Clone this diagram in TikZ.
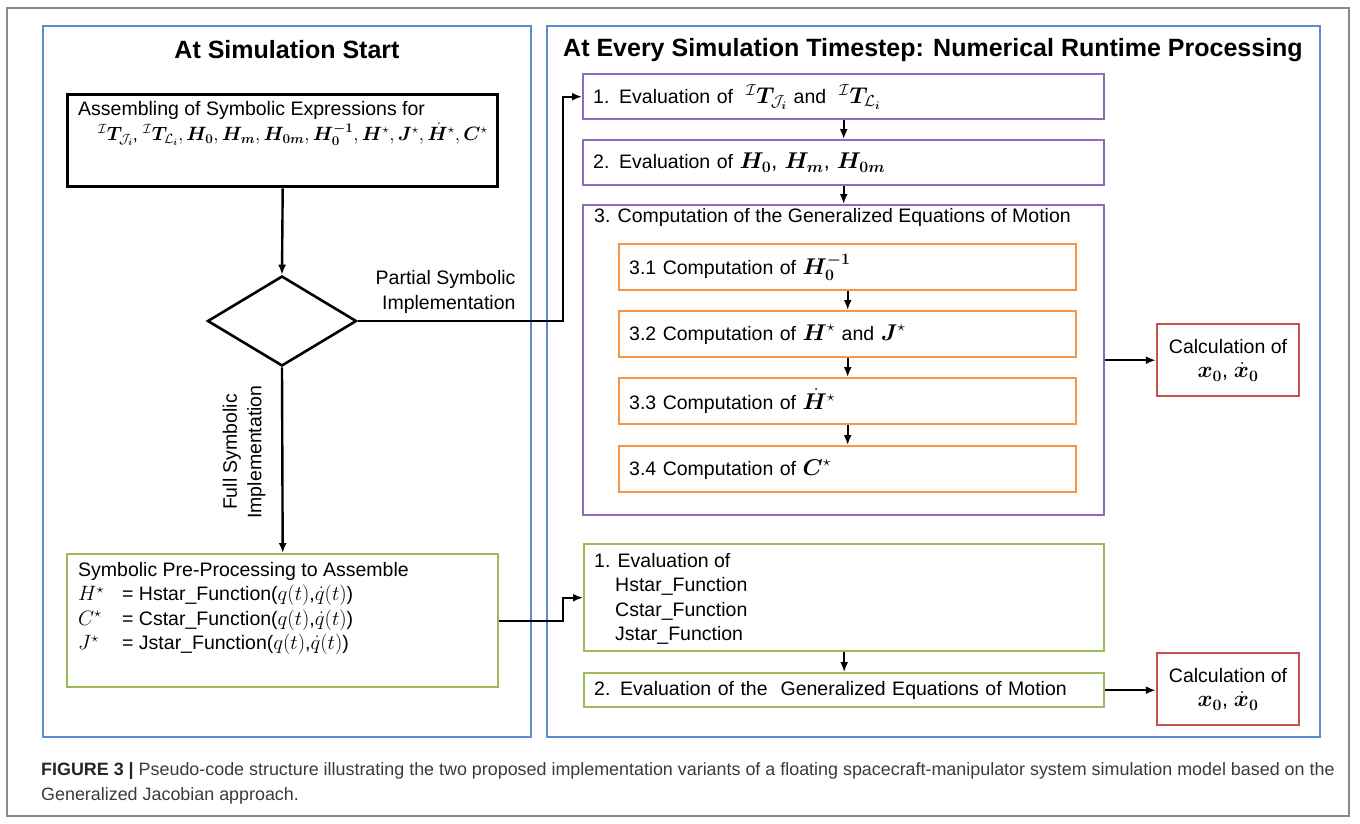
\documentclass[tikz,border=0pt]{standalone}
\usepackage{amsmath,bm,graphicx}
\usepackage[no-math]{fontspec}
\setmainfont{Liberation Sans}
\usetikzlibrary{arrows.meta,shapes.geometric}
\definecolor{panelblue}{HTML}{5B8BD0}
\definecolor{evalpurple}{HTML}{8E6BBF}
\definecolor{comporange}{HTML}{F79646}
\definecolor{symgreen}{HTML}{9BBB59}
\definecolor{calcred}{HTML}{C9504D}
\definecolor{framegray}{HTML}{8A8A8A}
\definecolor{captiongray}{HTML}{3A3A3A}
\newcommand{\bodyfont}{\fontsize{19.5}{24.5}\selectfont}
\newcommand{\bmath}[1]{\scalebox{1.1}{$#1$}}
\newcommand{\Tsym}[1]{{}^{\mathcal{I}}\bm{T}_{\mathcal{#1}_{\bm i}}}
\begin{document}
\begin{tikzpicture}[x=1pt,y=-1pt,
  panel/.style={draw=panelblue, line width=1.6pt},
  stepbox/.style={draw, line width=2.4pt, anchor=north west, inner xsep=10pt, inner ysep=0pt,
    align=left, font=\bodyfont},
  calcbox/.style={draw=calcred, line width=2.4pt, minimum width=142pt, minimum height=72pt,
    align=center, font=\bodyfont, inner sep=0pt},
  plain/.style={anchor=north west, align=left, font=\bodyfont, inner sep=0pt},
  >={Latex[length=10pt,width=8pt]}, line width=2.4pt]
\useasboundingbox (0,0) rectangle (1360,823);
\draw[framegray, line width=1.2pt] (7,8) rectangle (1349,816);
\draw[panel] (43,26) rectangle (531,737);
\draw[panel] (547,26) rectangle (1320,737);
\node[font=\fontsize{25}{28}\selectfont\bfseries] (titleL) at (287,50) {At Simulation Start};
\node[font=\fontsize{25}{28}\selectfont\bfseries] (titleR) at (933,50) {At Every Simulation Timestep: Numerical Runtime Processing};

\node[draw, line width=3.4pt, anchor=north west, minimum width=430pt, minimum height=92pt] (asm) at (66,93) {};
\node[plain] (asmtext) at (77,100) {Assembling of Symbolic Expressions for\\[1pt]
  \hspace{20pt}\scalebox{0.93}{$\Tsym{J}\text{, }\Tsym{L}, \bm{H}_{\bm 0}, \bm{H}_{\bm m}, \bm{H}_{\bm{0m}}, \bm{H}_{\bm 0}^{\bm{-1}}, \bm{H}^{\star}, \bm{J}^{\star}, \dot{\bm{H}}^{\star}, \bm{C}^{\star}$}};
\node[diamond, draw, line width=2.6pt, minimum width=149pt, minimum height=90pt, inner sep=0pt] (dec) at (282,321) {};
\node[font=\bodyfont, align=right, anchor=east] (partlab) at (520,292) {Partial Symbolic\\Implementation};
\node[font=\bodyfont, align=center, rotate=90] (fulllab) at (244,452) {Full Symbolic\\Implementation};
\node[stepbox, draw=symgreen, minimum width=431pt, minimum height=133pt] (pre) at (66,553) {};
\node[plain] (pretext) at (77,561) {Symbolic Pre-Processing to Assemble\\
  \makebox[44pt][l]{$H^{\star}$}= Hstar\_Function($q(t)$,$\dot{q}(t)$)\\
  \makebox[44pt][l]{$C^{\star}$}= Cstar\_Function($q(t)$,$\dot{q}(t)$)\\
  \makebox[44pt][l]{$J^{\star}$}= Jstar\_Function($q(t)$,$\dot{q}(t)$)};

\node[stepbox, draw=evalpurple, minimum width=521pt, minimum height=45pt, text width=501pt] (ev1) at (582,73)
  {1. Evaluation of \ \bmath{\Tsym{J}} and \ \bmath{\Tsym{L}}};
\node[stepbox, draw=evalpurple, minimum width=521pt, minimum height=45pt, text width=501pt] (ev2) at (582,139)
  {2. Evaluation of \bmath{\bm{H}_{\bm 0}\text{, }\bm{H}_{\bm m}\text{, }\bm{H}_{\bm{0m}}}};
\node[stepbox, draw=evalpurple, minimum width=521pt, minimum height=310pt] (eom) at (582,204) {};
\node[plain] (eomtext) at (593,207) {3. Computation of the Generalized Equations of Motion};
\node[stepbox, draw=comporange, minimum width=457pt, minimum height=46pt, text width=437pt] (c1) at (618,243)
  {3.1 Computation of \bmath{\bm{H}_{\bm 0}^{\bm{-1}}}};
\node[stepbox, draw=comporange, minimum width=457pt, minimum height=46pt, text width=437pt] (c2) at (618,310)
  {3.2 Computation of \bmath{\bm{H}^{\star}} and \bmath{\bm{J}^{\star}}};
\node[stepbox, draw=comporange, minimum width=457pt, minimum height=46pt, text width=437pt] (c3) at (618,377)
  {3.3 Computation of \bmath{\dot{\bm{H}}^{\star}}};
\node[stepbox, draw=comporange, minimum width=457pt, minimum height=46pt, text width=437pt] (c4) at (618,445)
  {3.4 Computation of \bmath{\bm{C}^{\star}}};
\node[calcbox] (calc1) at (1228,360) {Calculation of\\\bmath{\bm{x}_{\bm 0}\text{, }\dot{\bm{x}}_{\bm 0}}};

\node[stepbox, draw=symgreen, minimum width=520pt, minimum height=107pt] (fev1) at (583,543) {};
\node[plain] (fev1text) at (593,552) {1. Evaluation of\\
  \hspace{21pt}Hstar\_Function\\ \hspace{21pt}Cstar\_Function\\ \hspace{21pt}Jstar\_Function};
\node[stepbox, draw=symgreen, minimum width=520pt, minimum height=34pt, text width=500pt] (fev2) at (583,672)
  {2. Evaluation of the \ Generalized Equations of Motion};
\node[calcbox] (calc2) at (1228,689) {Calculation of\\\bmath{\bm{x}_{\bm 0}\text{, }\dot{\bm{x}}_{\bm 0}}};

\draw[->] (asm.south) -- (dec.north);
\draw[->] (dec.east) -| ([xshift=-19pt]ev1.west) -- (ev1.west);
\draw[->] (dec.south) -- (pre.north);
\draw[->] (pre.east) -| ([xshift=-20pt]fev1.west) -- (fev1.west);
\draw[->] (ev1.south) -- (ev2.north);
\draw[->] (ev2.south) -- (eom.north);
\draw[->] (c1.south) -- (c2.north);
\draw[->] (c2.south) -- (c3.north);
\draw[->] (c3.south) -- (c4.north);
\draw[->] (eom.east) -- (eom.east -| calc1.west);
\draw[->] (fev1.south) -- (fev2.north);
\draw[->] (fev2.east) -- (fev2.east -| calc2.west);

\node[anchor=west, inner sep=0pt, text=captiongray, font=\fontsize{17.9}{20}\selectfont] (cap1) at (40,771)
  {\textbf{\color{black!85}FIGURE 3 |} Pseudo-code structure illustrating the two proposed implementation variants of a floating spacecraft-manipulator system simulation model based on the};
\node[anchor=west, inner sep=0pt, text=captiongray, font=\fontsize{17.9}{20}\selectfont] (cap2) at (40,796)
  {Generalized Jacobian approach.};
\end{tikzpicture}
\end{document}
